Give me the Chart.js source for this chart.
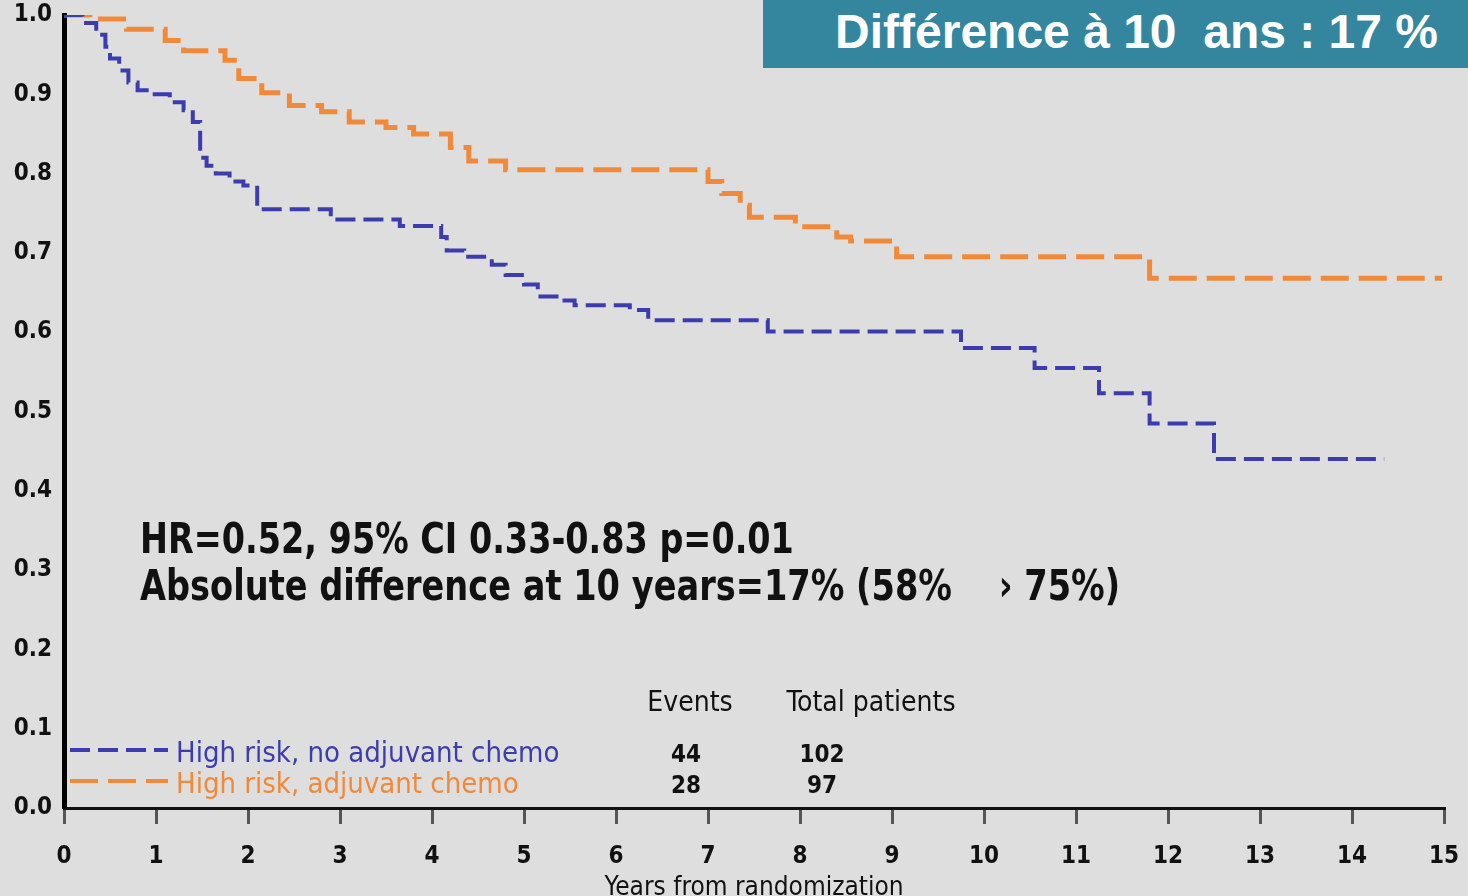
<!DOCTYPE html>
<html>
<head>
<meta charset="utf-8">
<title>Survie - risque élevé</title>
<script src="https://cdn.jsdelivr.net/npm/chart.js@4.4.1/dist/chart.umd.min.js"></script>
<style>
  html, body { margin: 0; padding: 0; background: #dedede; }
  #wrap { position: relative; width: 1468px; height: 896px; overflow: hidden; }
  #banner {
    position: absolute; left: 763px; top: 0; width: 705px; height: 68px;
    background: #33869e; color: #fff;
    font: bold 48px "Liberation Sans", Arial, sans-serif;
    line-height: 64px; text-align: right; padding-right: 30px; box-sizing: border-box;
  }
</style>
</head>
<body>
<div id="wrap">
  <canvas id="km" width="1468" height="896"></canvas>
  <div id="banner">Différence à 10&nbsp; ans : 17 %</div>
</div>
<script>
// Kaplan-Meier curves, years vs survival proportion (step points)
var noChemoYears = [0, 0.2, 0.35, 0.45, 0.5, 0.6, 0.7, 0.8, 0.95, 1.15, 1.3, 1.4, 1.48, 1.55, 1.65, 1.8, 1.95, 2.1, 2.9, 3.65, 4.1, 4.16, 4.35, 4.65, 4.8, 5.0, 5.15, 5.4, 5.55, 6.15, 6.35, 7.65, 9.75, 10.55, 11.25, 11.8, 12.5, 14.35];
var noChemoSurv  = [1.0, 0.99, 0.975, 0.96, 0.945, 0.93, 0.915, 0.905, 0.9, 0.89, 0.88, 0.865, 0.82, 0.81, 0.8, 0.79, 0.785, 0.755, 0.742, 0.734, 0.72, 0.703, 0.695, 0.685, 0.672, 0.66, 0.645, 0.64, 0.634, 0.628, 0.615, 0.601, 0.58, 0.555, 0.523, 0.485, 0.44, 0.44];

var chemoYears = [0, 0.28, 0.68, 1.1, 1.3, 1.75, 1.9, 2.15, 2.45, 2.8, 3.1, 3.5, 3.8, 4.2, 4.4, 4.8, 7.0, 7.15, 7.35, 7.45, 7.95, 8.4, 8.55, 9.05, 11.8, 14.98];
var chemoSurv  = [1.0, 0.995, 0.982, 0.968, 0.955, 0.943, 0.92, 0.902, 0.886, 0.878, 0.865, 0.858, 0.85, 0.833, 0.816, 0.805, 0.79, 0.775, 0.76, 0.745, 0.733, 0.72, 0.715, 0.695, 0.668, 0.668];

var seriesNames = ['High risk, no adjuvant chemo', 'High risk, adjuvant chemo'];
var seriesColors = ['#3d3cae', '#f08a3a'];
var eventCounts = [44, 28];
var totalPatients = [102, 97];

var statLines = [
  'HR=0.52, 95% CI 0.33-0.83 p=0.01',
  'Absolute difference at 10 years=17% (58%    \u203a 75%)'
];

function toPoints(xs, ys) {
  return xs.map(function (x, i) { return { x: x, y: ys[i] }; });
}

var narrow = '"DejaVu Sans Condensed", "DejaVu Sans", sans-serif';

// draws text squeezed horizontally by sx
function squeezed(ctx, text, x, y, sx) {
  ctx.save();
  ctx.translate(x, y);
  ctx.scale(sx, 1);
  ctx.fillText(text, 0, 0);
  ctx.restore();
}

// legend, event table and stats text drawn inside the plot area
var annotations = {
  id: 'annotations',
  afterDatasetsDraw: function (chart) {
    var ctx = chart.ctx;
    ctx.save();
    ctx.fillStyle = '#111';
    ctx.textBaseline = 'alphabetic';
    ctx.textAlign = 'left';
    ctx.font = 'bold 42px ' + narrow;
    squeezed(ctx, statLines[0], 140, 553, 0.885);
    squeezed(ctx, statLines[1], 140, 600, 0.89);

    ctx.font = '28px ' + narrow;
    ctx.textAlign = 'center';
    ctx.fillText('Events', 690, 711);
    ctx.fillText('Total patients', 871, 711);

    var rowsY = [762, 793];
    var dashes = [[20, 8], [28, 10]];
    for (var i = 0; i < 2; i++) {
      ctx.fillStyle = '#111';
      ctx.textAlign = 'center';
      ctx.font = 'bold 24px ' + narrow;
      ctx.fillText(String(eventCounts[i]), 686, rowsY[i]);
      ctx.fillText(String(totalPatients[i]), 822, rowsY[i]);

      ctx.strokeStyle = seriesColors[i];
      ctx.lineWidth = 4;
      ctx.setLineDash(dashes[i]);
      ctx.beginPath();
      ctx.moveTo(70, rowsY[i] - 12);
      ctx.lineTo(168, rowsY[i] - 12);
      ctx.stroke();
      ctx.setLineDash([]);

      ctx.fillStyle = seriesColors[i];
      ctx.textAlign = 'left';
      ctx.font = '29px ' + narrow;
      ctx.fillText(seriesNames[i], 176, rowsY[i]);
    }
    ctx.restore();
  }
};

new Chart(document.getElementById('km').getContext('2d'), {
  type: 'line',
  data: {
    datasets: [
      {
        label: seriesNames[0],
        data: toPoints(noChemoYears, noChemoSurv),
        borderColor: seriesColors[0], borderWidth: 4, borderDash: [20, 8],
        stepped: true, pointRadius: 0, fill: false
      },
      {
        label: seriesNames[1],
        data: toPoints(chemoYears, chemoSurv),
        borderColor: seriesColors[1], borderWidth: 5, borderDash: [28, 10],
        stepped: true, pointRadius: 0, fill: false
      }
    ]
  },
  options: {
    responsive: false,
    animation: false,
    devicePixelRatio: 1,
    layout: { padding: { top: 15, right: 24, left: 0, bottom: 0 } },
    plugins: { legend: { display: false }, tooltip: { enabled: false } },
    scales: {
      x: {
        type: 'linear', min: 0, max: 15,
        afterFit: function (s) { s.height = 88; s.paddingLeft = 0; s.paddingRight = 0; },
        border: { color: '#111', width: 3 },
        grid: { drawOnChartArea: false, drawTicks: true, tickLength: 16, color: '#555', lineWidth: 3 },
        ticks: { stepSize: 1, color: '#111', padding: 18, maxRotation: 0, font: { family: narrow, size: 24, weight: 'bold' } },
        title: { display: true, text: 'Years from randomization', color: '#111', padding: { top: 0, bottom: -8 }, font: { family: narrow, size: 26 } }
      },
      y: {
        min: 0, max: 1,
        afterFit: function (s) { s.width = 64; s.paddingTop = 0; s.paddingBottom = 0; },
        border: { color: '#000', width: 5 },
        grid: { display: false, drawTicks: false },
        ticks: { stepSize: 0.1, color: '#111', padding: 12, font: { family: narrow, size: 24, weight: 'bold' },
          callback: function (v) { return v.toFixed(1); } }
      }
    }
  },
  plugins: [annotations]
});
</script>
</body>
</html>
